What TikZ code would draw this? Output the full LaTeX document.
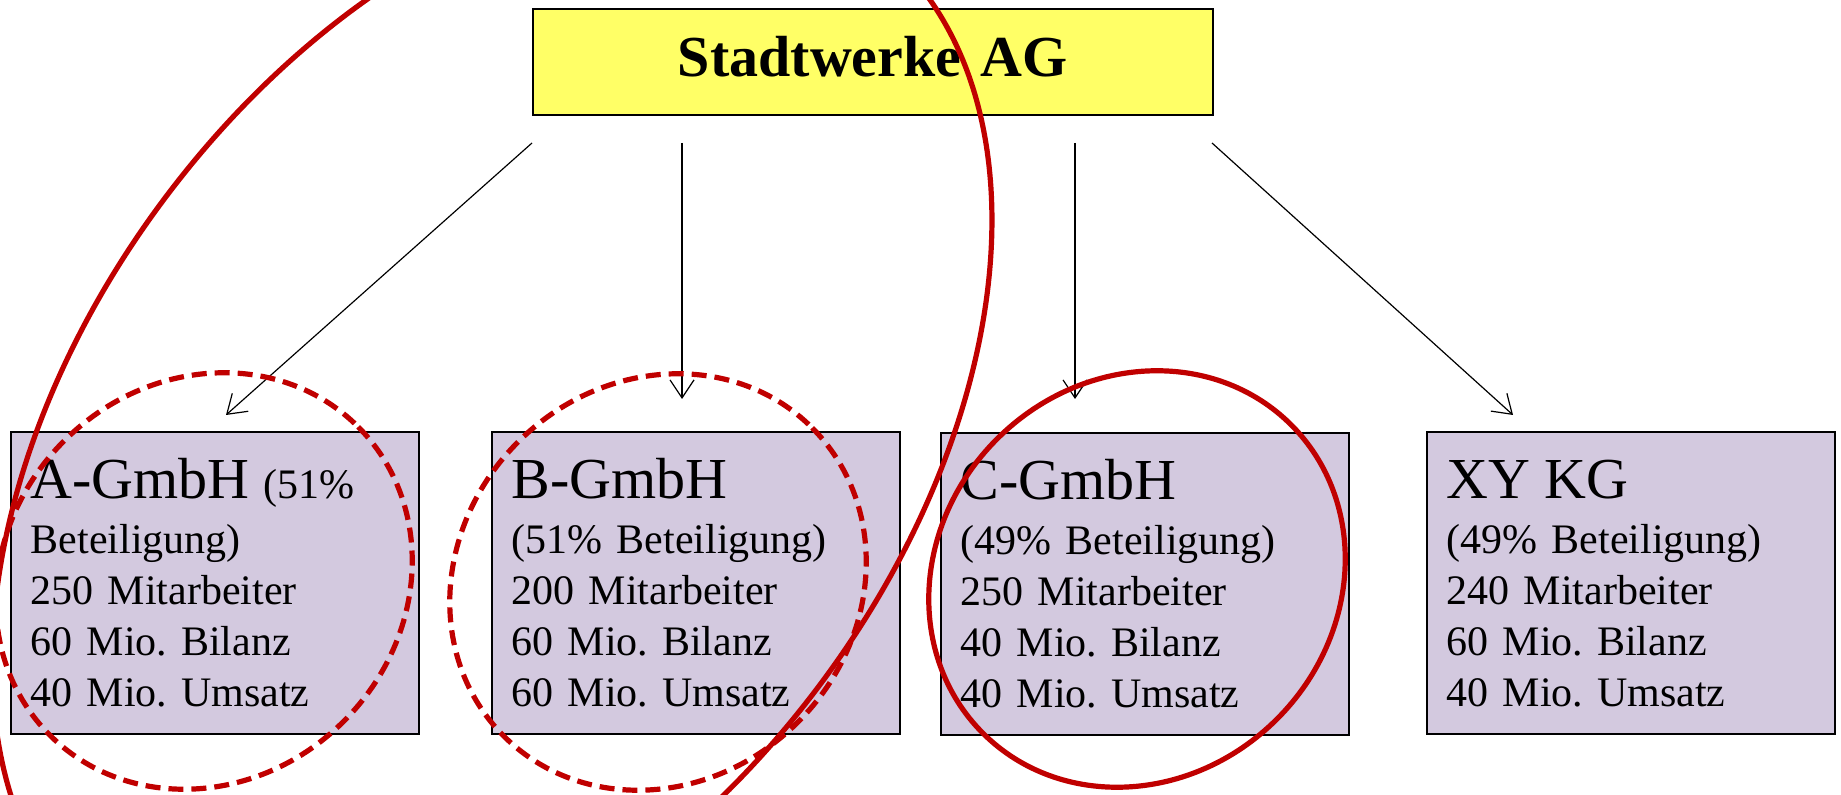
\documentclass[tikz,border=0pt]{standalone}
\usepackage{fontspec}
\setmainfont{Liberation Serif}
\usepackage{tikz}
\usetikzlibrary{arrows.meta, positioning}
\definecolor{holding}{HTML}{FFFF66}
\definecolor{tochter}{HTML}{D3C9DF}
\definecolor{marker}{HTML}{C00000}
\newcommand{\firmsize}{\fontsize{29}{33}\selectfont}
\newcommand{\infosize}{\fontsize{21}{25.5}\selectfont\frenchspacing}

\begin{document}
\begin{tikzpicture}[x=0.5pt, y=-0.5pt,
  firm/.style={draw, fill=tochter, line width=0.8pt, anchor=north west, inner xsep=10pt, inner ysep=0pt,
    text width=184pt, text height=33.5pt, text depth=117.5pt, align=left, font=\infosize},
  link/.style={-{Straight Barb[length=9pt, width=12pt]}, line width=0.6pt},
  ring/.style={marker, line width=2.6pt},
  dashring/.style={ring, dash pattern=on 7.5pt off 4pt}]
  \clip (0,0) rectangle (1841,795);
  \node[draw, fill=holding, line width=0.8pt, anchor=north west, inner sep=0pt, text width=340pt,
    text height=34pt, text depth=19pt, align=center, font=\firmsize\bfseries] (ag) at (532,8) {Stadtwerke AG};
  \node[firm] (a) at (10,431) {{\firmsize A-GmbH }(51\%\\[2pt] Beteiligung)\\ 250 Mitarbeiter\\ 60 Mio. Bilanz\\ 40 Mio. Umsatz};
  \node[firm] (b) at (491,431) {{\firmsize B-GmbH}\\[2pt] (51\% Beteiligung)\\ 200 Mitarbeiter\\ 60 Mio. Bilanz\\ 60 Mio. Umsatz};
  \node[firm] (c) at (940,432) {{\firmsize C-GmbH}\\[2pt] (49\% Beteiligung)\\ 250 Mitarbeiter\\ 40 Mio. Bilanz\\ 40 Mio. Umsatz};
  \node[firm] (xy) at (1426,431) {{\firmsize XY KG}\\[2pt] (49\% Beteiligung)\\ 240 Mitarbeiter\\ 60 Mio. Bilanz\\ 40 Mio. Umsatz};
  \coordinate (fa) at (532,143);  \coordinate (ta) at (226,415);
  \coordinate (fb) at (682,143);  \coordinate (tb) at (682,399);
  \coordinate (fc) at (1075,143); \coordinate (tc) at (1075,399);
  \coordinate (fx) at (1212,143); \coordinate (tx) at (1513,415);
  \draw[link] (fa) -- (ta);
  \draw[link] (fb) -- (tb);
  \draw[link] (fc) -- (tc);
  \draw[link] (fx) -- (tx);
  \draw[ring] (492,442) circle [x radius=630, y radius=408, rotate=53];
  \draw[dashring] (204,581) circle [x radius=218, y radius=198, rotate=45];
  \draw[dashring] (658,582) circle [x radius=218, y radius=198, rotate=45];
  \draw[ring] (1137,579) circle [x radius=218, y radius=198, rotate=45];
\end{tikzpicture}
\end{document}
